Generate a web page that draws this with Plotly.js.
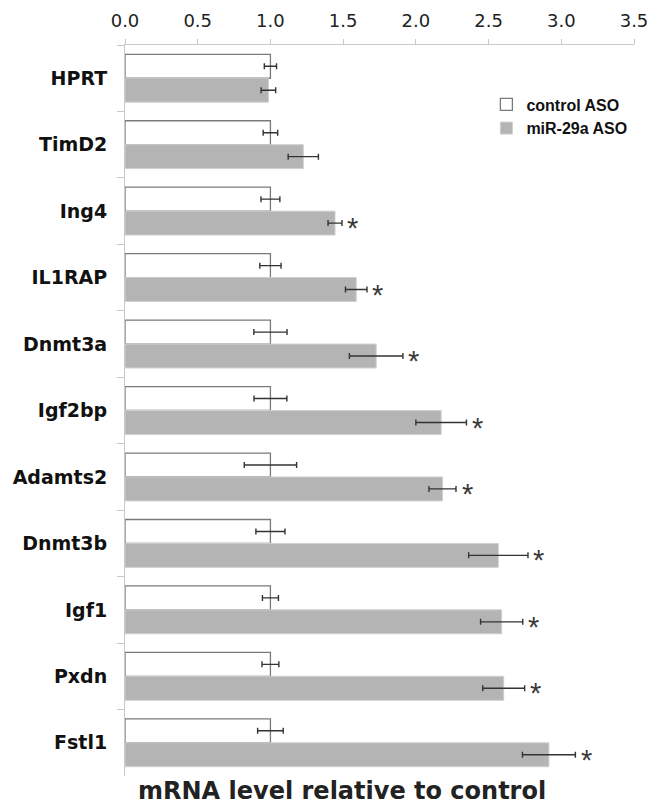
<!DOCTYPE html>
<html>
<head>
<meta charset="utf-8">
<script src="https://cdn.plot.ly/plotly-3.0.1.min.js"></script>
<style>
html,body{margin:0;padding:0;background:#fff;}
#chart{width:654px;height:811px;}
</style>
</head>
<body>
<div id="chart"></div>
<script>
// ---- data ----
const genes = ["HPRT","TimD2","Ing4","IL1RAP","Dnmt3a","Igf2bp","Adamts2","Dnmt3b","Igf1","Pxdn","Fstl1"];
const controlVals = [1.0,1.0,1.0,1.0,1.0,1.0,1.0,1.0,1.0,1.0,1.0];
const controlErr  = [0.042,0.05,0.065,0.073,0.114,0.113,0.18,0.10,0.055,0.058,0.088];
const mirVals = [0.986,1.226,1.444,1.590,1.727,2.174,2.183,2.567,2.590,2.604,2.915];
const mirErr  = [0.05,0.104,0.048,0.074,0.184,0.174,0.093,0.204,0.145,0.144,0.182];
const significant = [false,false,true,true,true,true,true,true,true,true,true];
const seriesNames = ["control ASO","miR-29a ASO"];
const xTickVals = [0,0.5,1,1.5,2,2.5,3,3.5];
const xTickText = ["0.0","0.5","1.0","1.5","2.0","2.5","3.0","3.5"];
const xTitle = "mRNA level relative to control";

const traces = [
  {
    type:"bar", orientation:"h", name:seriesNames[0],
    x:controlVals, y:genes,
    marker:{color:"#ffffff", line:{color:"#7a7a7a", width:1.3}},
    error_x:{type:"data", array:controlErr, visible:true, color:"#333333", thickness:1.4, width:3}
  },
  {
    type:"bar", orientation:"h", name:seriesNames[1],
    x:mirVals, y:genes,
    marker:{color:"#b4b4b4", line:{color:"#cfcfcf", width:1}},
    error_x:{type:"data", array:mirErr, visible:true, color:"#333333", thickness:1.4, width:3}
  }
];

const annotations = [];
genes.forEach((g,i)=>{
  if(significant[i]){
    annotations.push({
      x: mirVals[i]+mirErr[i], y: g, xref:"x", yref:"y",
      text:"*", showarrow:false, xanchor:"center", yanchor:"middle",
      xshift:11, yshift:-17,
      font:{family:"Liberation Sans, Arial, sans-serif", size:29, color:"#3a3a3a"}
    });
  }
});
annotations.push({
  x:0.427, y:-0.021, xref:"paper", yref:"paper",
  text:"<b>"+xTitle+"</b>", showarrow:false, xanchor:"center", yanchor:"middle",
  font:{family:"DejaVu Sans, sans-serif", size:24, color:"#222222"}
});

const layout = {
  width:654, height:811,
  margin:{l:125, r:20, t:45, b:35, pad:0},
  paper_bgcolor:"#ffffff", plot_bgcolor:"#ffffff",
  barmode:"group", bargap:0.28, bargroupgap:0,
  showlegend:true,
  legend:{
    x:0.71, y:0.942, xanchor:"left", yanchor:"top",
    bgcolor:"rgba(0,0,0,0)", borderwidth:0,
    font:{family:"Liberation Sans, Arial, sans-serif", size:16, color:"#111111", weight:"bold"},
    traceorder:"normal"
  },
  xaxis:{
    side:"top", range:[0,3.5], tickvals:xTickVals, ticktext:xTickText,
    ticks:"outside", ticklen:5, tickcolor:"#c8c8c8", tickwidth:1,
    showline:true, linecolor:"#c8c8c8", linewidth:1,
    showgrid:false, zeroline:false,
    tickfont:{family:"DejaVu Sans, sans-serif", size:18, color:"#222222"},
    ticklabelstandoff:5,
    fixedrange:true
  },
  yaxis:{
    type:"category", autorange:"reversed",
    tickson:"boundaries", ticks:"outside", ticklen:7, tickcolor:"#c8c8c8", tickwidth:1,
    showline:true, linecolor:"#c8c8c8", linewidth:1,
    showgrid:false, zeroline:false,
    tickfont:{family:"DejaVu Sans, sans-serif", size:19, color:"#111111", weight:"bold"},
    ticklabelstandoff:13,
    fixedrange:true
  },
  annotations:annotations
};

Plotly.newPlot("chart", traces, layout, {staticPlot:true, displayModeBar:false});
</script>
</body>
</html>
